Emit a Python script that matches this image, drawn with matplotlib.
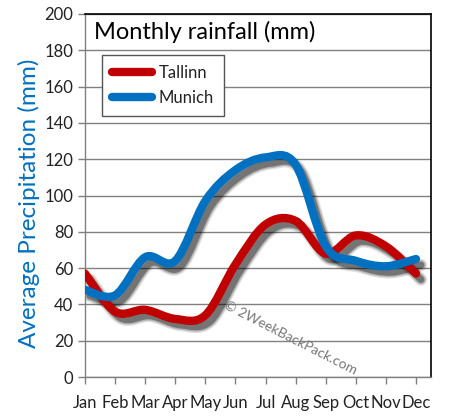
import matplotlib.pyplot as plt
import matplotlib.transforms as mtransforms
from matplotlib.path import Path
from matplotlib.patches import PathPatch
from matplotlib.lines import Line2D
import numpy as np

plt.rcParams['font.family'] = ['Lato', 'DejaVu Sans']

months = ["Jan", "Feb", "Mar", "Apr", "May", "Jun",
          "Jul", "Aug", "Sep", "Oct", "Nov", "Dec"]
tallinn = [57, 36, 37, 32, 34, 62, 84, 86, 68, 78, 72, 57]
munich = [48, 45, 66, 64, 97, 114, 121, 117, 72, 64, 61, 65]

red = "#C00000"
blue = "#0070C0"


def smooth_path(y):
    # Excel style smoothed line: catmull-rom turned into cubic bezier segments
    x = np.arange(len(y), dtype=float)
    y = np.asarray(y, dtype=float)
    verts = [(x[0], y[0])]
    codes = [Path.MOVETO]
    n = len(y)
    for i in range(n - 1):
        p0 = (x[max(i - 1, 0)], y[max(i - 1, 0)])
        p1 = (x[i], y[i])
        p2 = (x[i + 1], y[i + 1])
        p3 = (x[min(i + 2, n - 1)], y[min(i + 2, n - 1)])
        c1 = (p1[0] + (p2[0] - p0[0]) / 6, p1[1] + (p2[1] - p0[1]) / 6)
        c2 = (p2[0] - (p3[0] - p1[0]) / 6, p2[1] - (p3[1] - p1[1]) / 6)
        verts += [c1, c2, p2]
        codes += [Path.CURVE4] * 3
    return Path(verts, codes)


fig = plt.figure(figsize=(4.51, 4.18), dpi=100)
ax = fig.add_axes([85 / 451, 41 / 418, 346 / 451, 363 / 418])

ax.set_xlim(0, 11.5)
ax.set_ylim(0, 200)
ax.set_yticks(range(0, 201, 20))
ax.set_xticks(range(12))
ax.set_xticklabels(months)
ax.grid(axis="y", color="#808080", linewidth=1)
ax.set_axisbelow(True)

for s in ["top", "right"]:
    ax.spines[s].set_color("black")
    ax.spines[s].set_linewidth(1.2)
for s in ["left", "bottom"]:
    ax.spines[s].set_color("#808080")
    ax.spines[s].set_linewidth(1)
ax.tick_params(axis="both", colors="#808080", length=5, width=1,
               labelcolor="#222222", labelsize=12)
ax.tick_params(axis="x", pad=8)

# shadows: several offset gray strokes to fake a blur
shift = ax.transData + mtransforms.ScaledTranslation(5 / 100, -6 / 100,
                                                     fig.dpi_scale_trans)
for data in [tallinn, munich]:
    for lw, a in [(9, 0.12), (7, 0.2), (5, 0.35)]:
        sh = PathPatch(smooth_path(data), facecolor="none", edgecolor="black",
                       linewidth=lw, alpha=a, capstyle="round", zorder=2)
        ax.add_patch(sh)
        sh.set_transform(shift)

ax.add_patch(PathPatch(smooth_path(tallinn), facecolor="none", edgecolor=red,
                       linewidth=6, capstyle="round", zorder=3))
ax.add_patch(PathPatch(smooth_path(munich), facecolor="none", edgecolor=blue,
                       linewidth=6, capstyle="round", zorder=4))

ax.text(0.3, 190, "Monthly rainfall (mm)", fontsize=17, va="center",
        ha="left", color="black")

handles = [Line2D([], [], color=red, linewidth=6, solid_capstyle="round"),
           Line2D([], [], color=blue, linewidth=6, solid_capstyle="round")]
leg = ax.legend(handles, ["Tallinn", "Munich"], loc="upper left",
                bbox_to_anchor=(17 / 346, 1 - 41 / 363), fancybox=False,
                edgecolor="#555555", framealpha=1, fontsize=12,
                handlelength=2.4, borderpad=0.6, labelspacing=0.55,
                borderaxespad=0, handletextpad=0.4)
leg.get_frame().set_linewidth(1)
leg.set_zorder(6)
for t in leg.get_texts():
    t.set_color("#222222")

ax.set_ylabel("Average Precipitation (mm)", color=blue, fontsize=17.5)
ax.yaxis.set_label_coords(-0.13, 0.478)

ax.text(4.75, 43, "\u00a9 2WeekBackPack.com", rotation=-27, color="#777777",
        fontsize=10, ha="left", va="top", rotation_mode="anchor", zorder=5)

fig.savefig("out.png", dpi=100)
